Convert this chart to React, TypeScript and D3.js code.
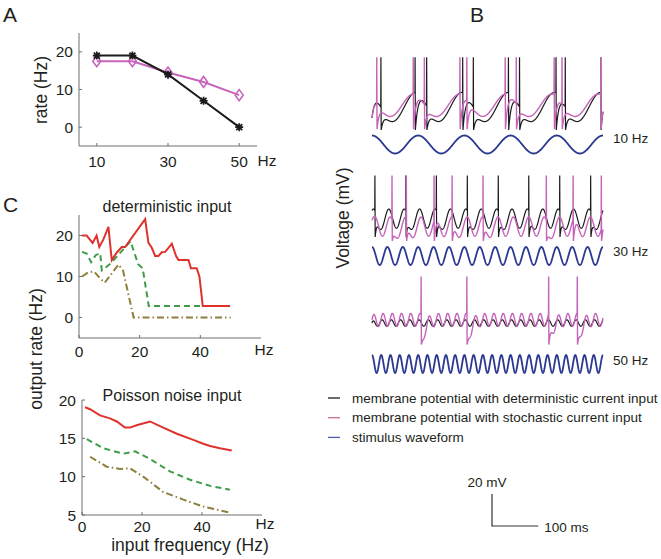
import React, { useEffect, useRef } from "react";
import * as d3 from "d3";

// ---- panel A: firing rate vs stimulus frequency
const inputHz = [10, 20, 30, 40, 50];
const rateDeterministic = [19, 19, 14, 7, 0];
const rateStochastic = [17.5, 17.5, 14.5, 12, 8.5];
const aXTicks = [10, 30, 50];
const aYTicks = [0, 10, 20];

// ---- panel C top: deterministic input
const detRedHz = [1, 2.5, 4.5, 5.8, 6.7, 8, 9.7, 10.8, 12.4, 14.1, 15.2, 21.8, 22.9, 24, 25.1, 26.2, 27.3, 28.4, 29.5, 30.6, 32, 32.8, 36.1, 36.9, 38.8, 39.7, 40.8, 49.8];
const detRedRate = [20, 20, 18.2, 20, 17.2, 19, 22.1, 14, 15.8, 17.2, 17.2, 24, 18.2, 17, 15, 15, 15.9, 16, 17, 18, 15, 14, 14, 12, 12, 10, 2.8, 2.8];
const detGreenHz = [1, 2.5, 4, 5.5, 7, 7.5, 10, 13, 17, 19.5, 21, 23, 50];
const detGreenRate = [16, 15.6, 13.5, 15.2, 15.7, 11.5, 12.9, 15.3, 18.6, 13, 12, 2.8, 2.8];
const detOliveHz = [1, 3, 5, 7, 8.5, 13, 14.5, 18, 50];
const detOliveRate = [10, 11, 11.2, 9.5, 8.5, 12.9, 11.5, 0, 0];
const cTopYTicks = [0, 10, 20];

// ---- panel C bottom: Poisson noise input
const poiRedHz = [1, 2.7, 6, 9.3, 11.6, 14.3, 16, 18.2, 22.7, 26, 31.6, 37.1, 40.4, 42.7, 46, 49.9];
const poiRedRate = [19.05, 18.8, 18, 17.6, 17.2, 16.4, 16.4, 16.7, 17.2, 16.6, 15.6, 14.8, 14.3, 14, 13.7, 13.4];
const poiGreenHz = [1.6, 7.1, 13.8, 17.7, 22.7, 29.3, 36, 42.7, 49.3];
const poiGreenRate = [14.9, 13.7, 13, 13.3, 12.3, 10.7, 9.6, 8.8, 8.3];
const poiOliveHz = [2.7, 8.2, 12.7, 16, 20.4, 27.1, 33.8, 40.4, 44.9, 49.3];
const poiOliveRate = [12.6, 11.3, 11, 11.1, 10, 8, 7, 6.1, 5.7, 5.3];
const cBotYTicks = [5, 10, 15, 20];
const cXTicks = [0, 20, 40];

// ---- panel B: spike times (ms)
const stimFreqs = [10, 30, 50];
const spikesDet10 = [19, 93, 118, 196, 219, 295, 319, 398, 418, 495];
const spikesSto10 = [10, 89, 113, 190, 205, 288, 312, 394, 411, 495];
const spikesDet30 = [6, 73, 139, 206, 273, 339, 406, 473];
const spikesSto30 = [43, 74, 134, 173, 240, 377, 435, 496];
const spikesDet50: number[] = [];
const spikesSto50 = [106, 205, 382, 444];
const legendLabels = [
  "membrane potential with deterministic current input",
  "membrane potential with stochastic current input",
  "stimulus waveform",
];

const FONT = "'Liberation Sans', Arial, Helvetica, sans-serif";
const TEXT = "#231f20";
const AXIS = "#6d6e71";
const BLACK = "#1b1b1b";
const MAGENTA = "#c664bb";
const NAVY = "#2b3990";
const RED = "#e0322d";
const GREEN = "#3f9b47";
const OLIVE = "#8e7f3c";

type Sel = d3.Selection<any, unknown, null, undefined>;

function label(g: Sel, x: number, y: number, s: string, size: number, anchor = "start") {
  return g.append("text").attr("x", x).attr("y", y).attr("font-size", size)
    .attr("text-anchor", anchor).attr("fill", TEXT).text(s);
}

function axes(g: Sel, x: d3.ScaleLinear<number, number>, y: d3.ScaleLinear<number, number>, xt: number[], yt: number[], xLabY: number) {
  const [x0, x1] = x.range();
  const [y0, y1] = y.range();
  g.append("line").attr("x1", x0).attr("x2", x0).attr("y1", y0).attr("y2", y1).attr("stroke", AXIS);
  g.append("line").attr("x1", x0).attr("x2", x1).attr("y1", y0).attr("y2", y0).attr("stroke", AXIS);
  xt.forEach(v => {
    g.append("line").attr("x1", x(v)).attr("x2", x(v)).attr("y1", y0).attr("y2", y0 - 3).attr("stroke", AXIS);
    label(g, x(v), xLabY, String(v), 15.5, "middle");
  });
  yt.forEach(v => {
    g.append("line").attr("x1", x0).attr("x2", x0 + 3).attr("y1", y(v)).attr("y2", y(v)).attr("stroke", AXIS);
    label(g, x0 - 6, y(v) + 5.5, String(v), 15.5, "end");
  });
}

function series(g: Sel, x: any, y: any, xs: number[], ys: number[], color: string, dash?: string) {
  const line = d3.line<number>().x((_, i) => x(xs[i])).y(d => y(d));
  g.append("path").attr("d", line(ys)).attr("fill", "none").attr("stroke", color)
    .attr("stroke-width", 2).attr("stroke-dasharray", dash || null);
}

type Model = { rest: number; amp: number; lag: number; tau: number; peak: number; trough: number; v0: number };

// membrane trace: drive follows the stimulus, spikes at the read times, reset and recovery
function membrane(spikes: number[], f: number, p: Model) {
  const drive = (t: number) => p.rest + p.amp * Math.cos((2 * Math.PI * f * (t - p.lag)) / 1000);
  let off = p.v0 - drive(0);
  let last = 0;
  let si = 0;
  const pts: [number, number][] = [];
  for (let t = 0; t <= 500; t += 0.25) {
    while (si < spikes.length && spikes[si] <= t) {
      const ts = spikes[si];
      pts.push([ts, drive(ts) + off * Math.exp(-(ts - last) / p.tau)]);
      pts.push([ts + 0.3, p.peak], [ts + 0.9, p.trough]);
      last = ts + 0.9;
      off = p.trough - drive(last);
      si++;
    }
    if (t < last) continue;
    pts.push([t, drive(t) + off * Math.exp(-(t - last) / p.tau)]);
  }
  return pts;
}

const groups = [
  { spikesDet: spikesDet10, spikesSto: spikesSto10, yRest: 118, stimY: 144.5, labelY: 142.5,
    det: { rest: 7, amp: 9, lag: -5, tau: 6, peak: 38, trough: -7.5, v0: 0 },
    sto: { rest: 8, amp: 7, lag: -10, tau: 5, peak: 38, trough: -7, v0: 0 } },
  { spikesDet: spikesDet30, spikesSto: spikesSto30, yRest: 225, stimY: 256, labelY: 256,
    det: { rest: 4, amp: 6, lag: 3, tau: 4, peak: 31, trough: -7.5, v0: 9 },
    sto: { rest: -1, amp: 6, lag: 6, tau: 5, peak: 31, trough: -10, v0: 3 } },
  { spikesDet: spikesDet50, spikesSto: spikesSto50, yRest: 323, stimY: 364, labelY: 365,
    det: { rest: 0, amp: 2, lag: 2, tau: 3, peak: 0, trough: 0, v0: 0 },
    sto: { rest: 2, amp: 4, lag: 4, tau: 7, peak: 29, trough: -13.5, v0: 2 } },
];

function drawA(svg: Sel) {
  const g = svg.append("g");
  const x = d3.scaleLinear().domain([5, 55]).range([79, 257]);
  const y = d3.scaleLinear().domain([-5, 25]).range([146, 33]);
  label(g, 3, 22, "A", 21);
  axes(g, x, y, aXTicks, aYTicks, 167);
  label(g, 267, 166, "Hz", 15.5, "middle");
  g.append("text").attr("transform", "translate(47,90) rotate(-90)").attr("text-anchor", "middle")
    .attr("font-size", 17.5).attr("fill", TEXT).text("rate (Hz)");

  series(g, x, y, inputHz, rateStochastic, MAGENTA);
  inputHz.forEach((h, i) => {
    g.append("path").attr("transform", `translate(${x(h)},${y(rateStochastic[i])})`)
      .attr("d", "M0,-5.5L4,0L0,5.5L-4,0Z").attr("fill", "none").attr("stroke", MAGENTA).attr("stroke-width", 1.6);
  });
  series(g, x, y, inputHz, rateDeterministic, BLACK);
  inputHz.forEach((h, i) => {
    g.append("path").attr("transform", `translate(${x(h)},${y(rateDeterministic[i])})`)
      .attr("d", "M-4,0H4M0,-4V4M-3,-3L3,3M-3,3L3,-3").attr("stroke", BLACK).attr("stroke-width", 1.7);
  });
}

function drawC(svg: Sel) {
  const g = svg.append("g");
  label(g, 3, 212, "C", 21);
  g.append("text").attr("transform", "translate(42,349) rotate(-90)").attr("text-anchor", "middle")
    .attr("font-size", 17.5).attr("fill", TEXT).text("output rate (Hz)");

  const x1 = d3.scaleLinear().domain([0, 60]).range([79, 261]);
  const y1 = d3.scaleLinear().domain([-5, 25]).range([338, 215]);
  label(g, 167, 212, "deterministic input", 16, "middle");
  axes(g, x1, y1, cXTicks, cTopYTicks, 357);
  label(g, 264, 355, "Hz", 15.5, "middle");
  series(g, x1, y1, detOliveHz, detOliveRate, OLIVE, "7 3 1.5 3");
  series(g, x1, y1, detGreenHz, detGreenRate, GREEN, "6 4");
  series(g, x1, y1, detRedHz, detRedRate, RED);

  const x2 = d3.scaleLinear().domain([0, 60]).range([82, 262]);
  const y2 = d3.scaleLinear().domain([5, 20]).range([515, 400]);
  label(g, 172, 401, "Poisson noise input", 16, "middle");
  axes(g, x2, y2, cXTicks, cBotYTicks, 532);
  label(g, 265, 529, "Hz", 15.5, "middle");
  label(g, 190, 551, "input frequency (Hz)", 17.5, "middle");
  series(g, x2, y2, poiOliveHz, poiOliveRate, OLIVE, "7 3 1.5 3");
  series(g, x2, y2, poiGreenHz, poiGreenRate, GREEN, "6 4");
  series(g, x2, y2, poiRedHz, poiRedRate, RED);
}

function drawB(svg: Sel) {
  const g = svg.append("g");
  label(g, 470, 22, "B", 21);
  g.append("text").attr("transform", "translate(349,218) rotate(-90)").attr("text-anchor", "middle")
    .attr("font-size", 17.5).attr("fill", TEXT).text("Voltage (mV)");

  const t = d3.scaleLinear().domain([0, 500]).range([372, 603]);
  const line = d3.line<[number, number]>();

  groups.forEach((grp, i) => {
    const f = stimFreqs[i];
    const v = d3.scaleLinear().domain([0, 20]).range([grp.yRest, grp.yRest - 32]);
    const det = membrane(grp.spikesDet, f, grp.det).map(([a, b]) => [t(a), v(b)] as [number, number]);
    const sto = membrane(grp.spikesSto, f, grp.sto).map(([a, b]) => [t(a), v(b)] as [number, number]);
    g.append("path").attr("d", line(det)).attr("fill", "none").attr("stroke", BLACK).attr("stroke-width", 1.2);
    g.append("path").attr("d", line(sto)).attr("fill", "none").attr("stroke", MAGENTA).attr("stroke-width", 1.4);

    const s = d3.scaleLinear().domain([-1, 1]).range([grp.stimY + 9, grp.stimY - 9]);
    const stim = d3.range(0, 500.01, 0.5).map(ms => [t(ms), s(Math.cos((2 * Math.PI * f * ms) / 1000))] as [number, number]);
    g.append("path").attr("d", line(stim)).attr("fill", "none").attr("stroke", NAVY).attr("stroke-width", 1.8);
    label(g, 613, grp.labelY, `${f} Hz`, 13.5);
  });

  const legendColors = [BLACK, "#d06a95", "#4a5fa8"];
  legendLabels.forEach((s, i) => {
    const ly = 398 + i * 19.7;
    g.append("line").attr("x1", 328).attr("x2", 340).attr("y1", ly).attr("y2", ly)
      .attr("stroke", legendColors[i]).attr("stroke-width", 1.3);
    label(g, 352, ly + 4.5, s, 13.5);
  });

  // scale bar: 20 mV, 100 ms
  const v = d3.scaleLinear().domain([0, 20]).range([526, 494]);
  const bx = 492;
  g.append("path")
    .attr("d", `M${bx},${v(20)}V${v(0)}H${bx + t(100) - t(0)}`)
    .attr("fill", "none").attr("stroke", "#333").attr("stroke-width", 1.2);
  label(g, 487, 487, "20 mV", 13.5, "middle");
  label(g, bx + t(100) - t(0) + 6, 532, "100 ms", 13.5);
}

export default function App() {
  const ref = useRef<SVGSVGElement>(null);

  useEffect(() => {
    const svg = d3.select(ref.current) as Sel;
    svg.selectAll("*").remove();
    drawA(svg);
    drawB(svg);
    drawC(svg);
  }, []);

  return (
    <svg
      ref={ref}
      width={661}
      height={559}
      fontFamily={FONT}
      style={{ position: "absolute", left: 0, top: 0, background: "#fff" }}
    />
  );
}
